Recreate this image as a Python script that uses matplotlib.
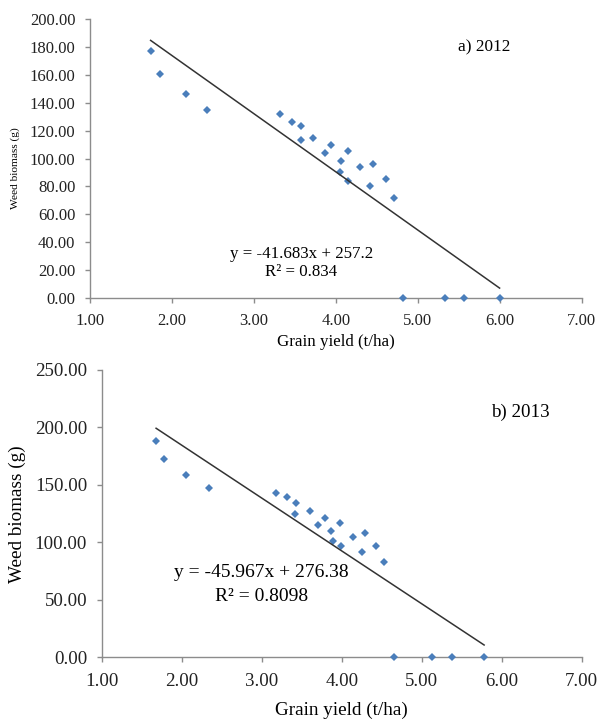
import matplotlib
matplotlib.use("Agg")
import matplotlib.pyplot as plt
import numpy as np

plt.rcParams['font.family'] = ['Liberation Serif', 'DejaVu Serif']

# ---- data: a) 2012 ----
x_2012 = [1.74, 1.86, 2.17, 2.43, 3.32, 3.47, 3.58, 3.57, 3.72, 3.94, 3.87, 4.15,
          4.07, 4.05, 4.15, 4.29, 4.45, 4.42, 4.61, 4.71, 4.82, 5.33, 5.57, 6.00]
y_2012 = [177, 160.5, 146, 135, 132, 126.5, 123, 113, 115, 109.5, 104, 105.5,
          98, 90, 84, 94, 96, 80.5, 85, 71.5, 0, 0, 0, 0]
slope_2012, icpt_2012, r2_2012 = -41.683, 257.2, "0.834"

# ---- data: b) 2013 ----
x_2013 = [1.68, 1.78, 2.05, 2.34, 3.18, 3.32, 3.43, 3.41, 3.60, 3.79, 3.70, 3.98,
          3.87, 3.89, 3.99, 4.14, 4.29, 4.25, 4.43, 4.53, 4.65, 5.13, 5.38, 5.78]
y_2013 = [188.5, 172, 158.5, 147, 143, 139, 134, 124.5, 127.5, 121.5, 115, 117,
          110, 101.5, 96.5, 105, 108, 91.5, 97, 83, 0, 0, 0, 0]
slope_2013, icpt_2013, r2_2013 = -45.967, 276.38, "0.8098"

x_ticks = [1, 2, 3, 4, 5, 6, 7]
y_ticks_2012 = [0, 20, 40, 60, 80, 100, 120, 140, 160, 180, 200]
y_ticks_2013 = [0, 50, 100, 150, 200, 250]

MARK = '#4a7ebb'
AXC = '#8c8c8c'

fig = plt.figure(figsize=(6, 7.2), dpi=100)

def style(ax, yt, ymax, fs, xpad, ypad):
    ax.set_xlim(1, 7)
    ax.set_ylim(0, ymax)
    ax.set_xticks(x_ticks)
    ax.set_yticks(yt)
    ax.set_xticklabels([f"{v:.2f}" for v in x_ticks], fontsize=fs, color='#222222')
    ax.set_yticklabels([f"{v:.2f}" for v in yt], fontsize=fs, color='#222222')
    for s in ['top', 'right']:
        ax.spines[s].set_visible(False)
    for s in ['left', 'bottom']:
        ax.spines[s].set_color(AXC)
        ax.spines[s].set_linewidth(1.0)
    ax.tick_params(axis='both', direction='out', length=3.5, width=1.0, color=AXC)
    ax.tick_params(axis='y', pad=ypad)
    ax.tick_params(axis='x', pad=xpad)
    ax.patch.set_alpha(0)

# top panel
ax1 = fig.add_axes([0.15, 0.5861, 0.8192, 0.3875])
ax1.plot(x_2012, y_2012, linestyle='none', marker='D', markersize=4.3,
         color=MARK, markeredgewidth=0, clip_on=False, zorder=3)
xl = np.array([min(x_2012), max(x_2012)])
ax1.plot(xl, slope_2012 * xl + icpt_2012, color='#333333', lw=1.1, zorder=4, clip_on=False)
style(ax1, y_ticks_2012, 200, 12, 7, 7)
ax1.text(0.802, 0.90, "a) 2012", transform=ax1.transAxes, fontsize=12.4,
         ha='center', va='center')
ax1.text(0.4295, 0.1585, f"y = {slope_2012}x + {icpt_2012}", transform=ax1.transAxes,
         fontsize=12.2, ha='center', va='center')
ax1.text(0.4295, 0.0925, f"R² = {r2_2012}", transform=ax1.transAxes,
         fontsize=12.2, ha='center', va='center')
ax1.set_xlabel("Grain yield (t/ha)", fontsize=12.2, labelpad=4)
fig.text(15 / 600, 1 - 168 / 720, "Weed biomass (g)", rotation=90, fontsize=8.2,
         ha='center', va='center')

# bottom panel
ax2 = fig.add_axes([0.1695, 0.0871, 0.8, 0.3993])
ax2.plot(x_2013, y_2013, linestyle='none', marker='D', markersize=4.3,
         color=MARK, markeredgewidth=0, clip_on=False, zorder=3)
xl2 = np.array([min(x_2013), max(x_2013)])
ax2.plot(xl2, slope_2013 * xl2 + icpt_2013, color='#333333', lw=1.1, zorder=4, clip_on=False)
style(ax2, y_ticks_2013, 250, 13.6, 8, 7)
ax2.text((520 - 101.7) / 480, (657.3 - 412) / 287.5, "b) 2013", transform=ax2.transAxes,
         fontsize=13.6, ha='center', va='center')
ax2.text((261.5 - 101.7) / 480, (657.3 - 573) / 287.5, f"y = {slope_2013}x + {icpt_2013}",
         transform=ax2.transAxes, fontsize=14, ha='center', va='center')
ax2.text((261.5 - 101.7) / 480, (657.3 - 596.7) / 287.5, f"R² = {r2_2013}",
         transform=ax2.transAxes, fontsize=14, ha='center', va='center')
ax2.set_xlabel("Grain yield (t/ha)", fontsize=13.8, labelpad=8)
fig.text(17 / 600, 1 - 514 / 720, "Weed biomass (g)", rotation=90, fontsize=13.8,
         ha='center', va='center')

fig.savefig("out.png", dpi=100, facecolor='white')
